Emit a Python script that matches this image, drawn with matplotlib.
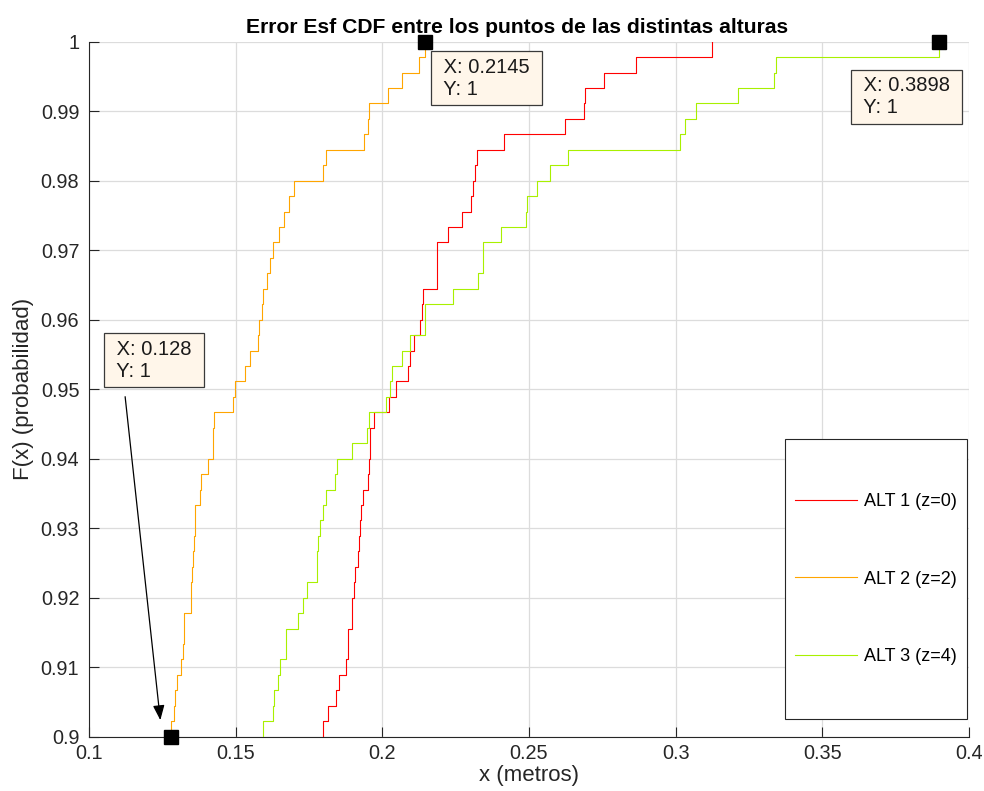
import numpy as np
import matplotlib
matplotlib.use("Agg")
import matplotlib.pyplot as plt
from matplotlib.transforms import offset_copy

plt.rcParams['font.family'] = ['Liberation Sans', 'DejaVu Sans']

# number of samples per height; only the upper tail of each sorted error set is listed
N_MUESTRAS = 450

# largest errors (metros), from the maximum downwards
alt1_cola = [0.3123, 0.2865, 0.2757, 0.2691, 0.2687, 0.2623, 0.2415, 0.2322, 0.2317,
             0.2309, 0.2302, 0.2273, 0.2223, 0.2188, 0.2186, 0.2185, 0.2140, 0.2134,
             0.2127, 0.2109, 0.2094, 0.2089, 0.2046, 0.2024, 0.1973, 0.1959, 0.1957,
             0.1954, 0.1950, 0.1933, 0.1926, 0.1923, 0.1920, 0.1916, 0.1908, 0.1904,
             0.1896, 0.1895, 0.1884, 0.1883, 0.1875, 0.1853, 0.1842, 0.1814, 0.1799]
alt2_cola = [0.2145, 0.2125, 0.2068, 0.2018, 0.1956, 0.1950, 0.1939, 0.1807, 0.1799,
             0.1700, 0.1681, 0.1665, 0.1648, 0.1628, 0.1617, 0.1606, 0.1593, 0.1590,
             0.1579, 0.1575, 0.1549, 0.1533, 0.1497, 0.1491, 0.1426, 0.1424, 0.1423,
             0.1405, 0.1381, 0.1378, 0.1362, 0.1360, 0.1358, 0.1355, 0.1352, 0.1349,
             0.1348, 0.1325, 0.1323, 0.1319, 0.1313, 0.1299, 0.1293, 0.1290, 0.1280]
alt3_cola = [0.3898, 0.3342, 0.3335, 0.3212, 0.3071, 0.3031, 0.3016, 0.2634, 0.2573,
             0.2526, 0.2494, 0.2490, 0.2406, 0.2344, 0.2343, 0.2325, 0.2240, 0.2146,
             0.2145, 0.2094, 0.2067, 0.2034, 0.2026, 0.2012, 0.1956, 0.1949, 0.1898,
             0.1846, 0.1840, 0.1808, 0.1799, 0.1787, 0.1781, 0.1777, 0.1776, 0.1744,
             0.1729, 0.1714, 0.1671, 0.1670, 0.1651, 0.1645, 0.1632, 0.1628, 0.1594]

etiquetas = ['ALT 1 (z=0)', 'ALT 2 (z=2)', 'ALT 3 (z=4)']
colores = ['#FF0000', '#FFA500', '#A8F000']

# data tips: (x, y, text shown)
tips = [(0.128, 0.9, ' X: 0.128 \n Y: 1'),
        (0.2145, 1.0, ' X: 0.2145 \n Y: 1'),
        (0.3898, 1.0, ' X: 0.3898 \n Y: 1')]

xticks = [0.1, 0.15, 0.2, 0.25, 0.3, 0.35, 0.4]
xticklabels = ['0.1', '0.15', '0.2', '0.25', '0.3', '0.35', '0.4']
yticks = [0.9, 0.91, 0.92, 0.93, 0.94, 0.95, 0.96, 0.97, 0.98, 0.99, 1.0]
yticklabels = ['0.9', '0.91', '0.92', '0.93', '0.94', '0.95', '0.96', '0.97', '0.98', '0.99', '1']


def cdf_cola(valores, n):
    s = np.sort(np.asarray(valores))
    m = len(s)
    F = 1.0 - (m - 1 - np.arange(m)) / n
    # start one level below the lowest listed sample so its jump is drawn
    x = np.r_[s[0], s]
    y = np.r_[F[0] - 1.0 / n, F]
    return x, y


fig = plt.figure(figsize=(9.84, 7.91), dpi=100)
ax = fig.add_axes([89 / 984, 54.3 / 791, 880 / 984, 695 / 791])

gris = '#262626'
lineas = []
for cola, lab, col in zip([alt1_cola, alt2_cola, alt3_cola], etiquetas, colores):
    x, y = cdf_cola(cola, N_MUESTRAS)
    ln, = ax.step(x, y, where='post', color=col, lw=0.8, label=lab, zorder=3)
    lineas.append(ln)

ax.set_xlim(0.1, 0.4)
ax.set_ylim(0.9, 1.0)
ax.set_xticks(xticks)
ax.set_xticklabels(xticklabels)
ax.set_yticks(yticks)
ax.set_yticklabels(yticklabels)
ax.tick_params(direction='in', length=7, width=0.8, colors=gris, labelsize=14.3,
               labelcolor='#262626')
ax.tick_params(axis='x', pad=5.5)
ax.tick_params(axis='y', pad=7)
ax.grid(True, color='#dcdcdc', lw=0.9)
ax.set_axisbelow(True)
for lado in ['top', 'right']:
    ax.spines[lado].set_visible(False)
for lado in ['left', 'bottom']:
    ax.spines[lado].set_color(gris)
    ax.spines[lado].set_linewidth(0.8)

ax.set_title('Error Esf CDF entre los puntos de las distintas alturas',
             fontsize=15.2, fontweight='bold', pad=6, x=0.486)
ax.set_xlabel('x (metros)', fontsize=16, labelpad=1, color='#262626')
ax.set_ylabel('F(x) (probabilidad)', fontsize=16, labelpad=5, color='#262626')

# legend frame drawn separately so it can be taller than the entries
marco = plt.Rectangle((0.7909, 0.0255), 0.2068, 0.4028, transform=ax.transAxes,
                      fc='white', ec=gris, lw=0.8, zorder=5)
ax.add_patch(marco)
leg = ax.legend(handles=lineas, loc='center', bbox_to_anchor=(0.8943, 0.2269),
                frameon=False, fontsize=13, labelspacing=3.35, handlelength=3.4,
                handletextpad=0.4)
leg.set_zorder(6)

# data tips
caja = dict(boxstyle='square,pad=0.33', fc='#FFF6EA', ec='#3a3a3a', lw=0.9)
desplaz = [(-60, 397), (13, -16), (-81.5, -34.6)]
for (tx, ty, texto), (dx, dy) in zip(tips, desplaz):
    ax.plot([tx], [ty], 's', color='black', ms=10, clip_on=False, zorder=7)
    ax.annotate(texto, xy=(tx, ty), xytext=(dx, dy), textcoords='offset pixels',
                ha='left', va='top', fontsize=14.5, bbox=caja, zorder=8,
                annotation_clip=False, linespacing=1.2, color='#1a1a1a')

# arrow from the first tip down to its point
punta = offset_copy(ax.transData, fig=fig, x=-9, y=0, units='dots')
ax.annotate('', xy=(tips[0][0], tips[0][1]), xycoords=punta,
            xytext=(-37, 340), textcoords='offset pixels',
            arrowprops=dict(arrowstyle='-|>,head_length=0.9,head_width=0.35',
                            color='black', lw=0.9, shrinkA=0, shrinkB=12),
            annotation_clip=False, zorder=8)

fig.savefig('out.png', dpi=100)
